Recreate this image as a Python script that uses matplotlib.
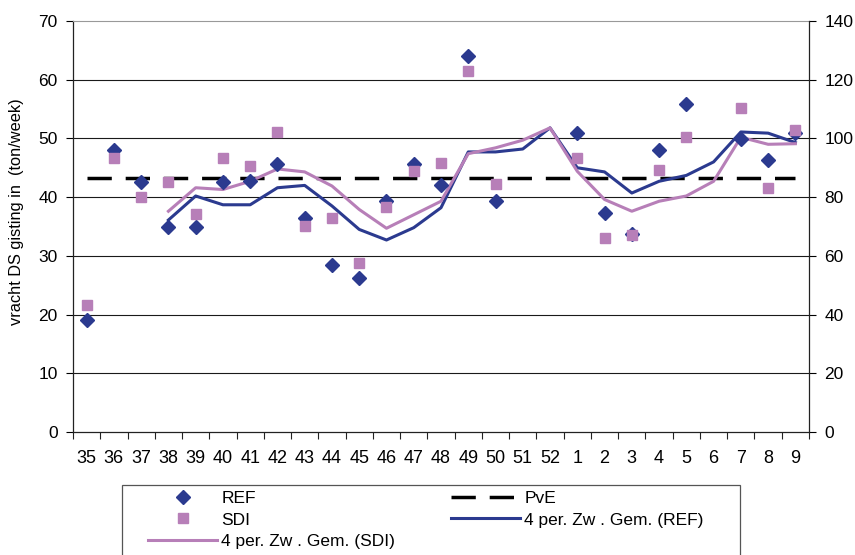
import numpy as np
import matplotlib
matplotlib.use("Agg")
import matplotlib.pyplot as plt
from matplotlib.patches import Rectangle

plt.rcParams['font.family'] = ['Liberation Sans', 'DejaVu Sans']

weeks = ['35', '36', '37', '38', '39', '40', '41', '42', '43', '44', '45', '46', '47', '48',
         '49', '50', '51', '52', '1', '2', '3', '4', '5', '6', '7', '8', '9']
nan = np.nan
ref = [19.0, 48.1, 42.5, 34.9, 34.9, 42.5, 42.8, 45.7, 36.5, 28.5, 26.2, 39.4, 45.6, 42.0,
       64.0, 39.3, nan, nan, 51.0, 37.3, 33.8, 48.0, 55.8, nan, 49.9, 46.4, 50.9]
sdi = [21.7, 46.7, 40.0, 42.6, 37.1, 46.7, 45.3, 51.1, 35.1, 36.5, 28.7, 38.3, 44.4, 45.9,
       61.5, 42.3, nan, nan, 46.7, 33.1, 33.6, 44.6, 50.2, nan, 55.1, 41.5, 51.5]
ma_ref = [nan, nan, nan, 36.1, 40.2, 38.7, 38.7, 41.6, 42.0, 38.5, 34.5, 32.7, 34.8, 38.2,
          47.7, 47.7, 48.2, 51.8, 45.0, 44.3, 40.7, 42.7, 43.7, 46.0, 51.1, 50.9, 49.3]
ma_sdi = [nan, nan, nan, 37.6, 41.6, 41.3, 42.7, 44.8, 44.3, 41.9, 37.9, 34.7, 37.0, 39.3,
          47.4, 48.4, 49.7, 51.8, 44.4, 39.6, 37.6, 39.3, 40.2, 42.7, 50.2, 49.0, 49.1]
pve = 43.3

ref_c = '#2B3A8F'
sdi_c = '#B77FB8'

fig = plt.figure(figsize=(8.55, 5.55), dpi=100)
W, H = 855, 555
ax = fig.add_axes([73 / W, 1 - 432 / H, (809 - 73) / W, (432 - 21) / H])

x = np.arange(len(weeks)) + 0.5

for v in range(10, 70, 10):
    ax.axhline(v, color='#1a1a1a', lw=0.8, zorder=1)

l_pve, = ax.plot([x[0], x[-1]], [pve, pve], color='black', lw=2.5, zorder=2)
l_pve.set_dashes((7.0, 4.0))
l_mref, = ax.plot(x, ma_ref, color=ref_c, lw=2.2, zorder=3)
l_msdi, = ax.plot(x, ma_sdi, color=sdi_c, lw=2.2, zorder=3)
s_ref, = ax.plot(x, ref, ls='none', marker='D', ms=7.2, color=ref_c, mec=ref_c, zorder=4)
s_sdi, = ax.plot(x, sdi, ls='none', marker='s', ms=7.3, color=sdi_c, mec=sdi_c, zorder=4)

ax.set_xlim(0, len(weeks))
ax.set_ylim(0, 70)
ax.set_yticks(range(0, 71, 10))
ax.set_xticks(np.arange(len(weeks) + 1))
ax.set_xticklabels([])
ax.set_xticks(x, minor=True)
ax.set_xticklabels(weeks, minor=True)
ax.tick_params(axis='x', which='major', direction='out', length=5, width=0.8, colors='#222')
ax.tick_params(axis='x', which='minor', length=0, pad=13, labelsize=13, labelcolor='black')
ax.tick_params(axis='y', direction='out', length=5, width=0.8, labelsize=12.5, pad=6)
ax.spines['top'].set_color('#999999')
ax.spines['right'].set_visible(False)
for s in ['left', 'bottom']:
    ax.spines[s].set_color('#222')
    ax.spines[s].set_linewidth(0.9)

ax2 = ax.twinx()
ax2.set_ylim(0, 140)
ax2.set_yticks(range(0, 141, 20))
ax2.tick_params(axis='y', direction='out', length=5, width=0.8, labelsize=12.5, pad=6)
for s in ['left', 'top', 'bottom']:
    ax2.spines[s].set_visible(False)
ax2.spines['right'].set_color('#222')
ax2.spines['right'].set_linewidth(0.9)

fig.text(17 / W, 1 - 212 / H, 'vracht DS gisting in  (ton/week)', rotation=90,
         va='center', ha='center', fontsize=11.8)

# legend frame (extends beyond the bottom edge as in the original)
fig.add_artist(Rectangle((122 / W, -0.05), (740 - 122) / W, (1 - 485 / H) + 0.05,
                         transform=fig.transFigure, fill=False, edgecolor='#555555',
                         lw=0.9, zorder=5))

handles = [s_ref, s_sdi, l_msdi, l_pve, l_mref]
labels = ['REF', 'SDI', '4 per. Zw . Gem. (SDI)', 'PvE', '4 per. Zw . Gem. (REF)']
leg = fig.legend(handles, labels, ncol=2, loc='upper left',
                 bbox_to_anchor=(148 / W, 1 - 491 / H),
                 fontsize=12.5, frameon=False,
                 borderpad=0.0, labelspacing=0.36, handlelength=4.0, handletextpad=0.23,
                 columnspacing=3.2, borderaxespad=0)

fig.savefig('out.png', dpi=100)
